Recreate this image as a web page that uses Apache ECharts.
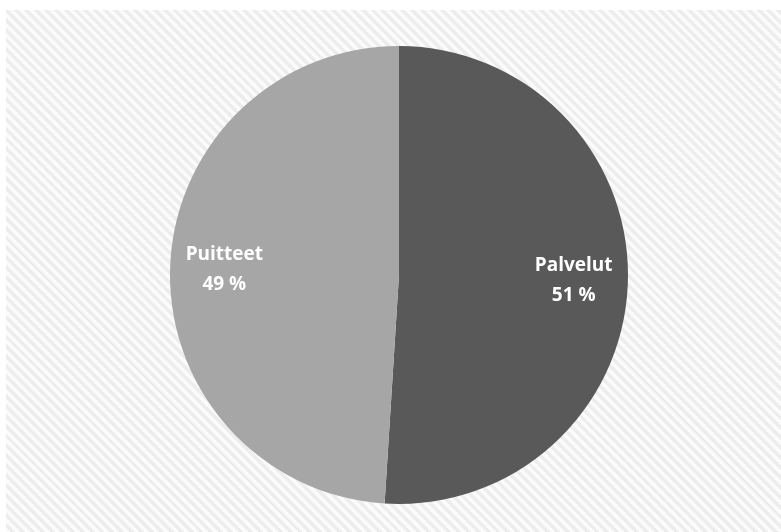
<!DOCTYPE html>
<html>
<head>
<meta charset="utf-8">
<script src="https://cdn.jsdelivr.net/npm/echarts@6/dist/echarts.min.js"></script>
<style>
  html, body { margin: 0; padding: 0; background: #ffffff; }
  #wrap { position: relative; width: 781px; height: 532px; overflow: hidden; }
  #stripes {
    position: absolute; left: 6px; top: 10px; right: 0; bottom: 0;
    background: repeating-linear-gradient(45deg, #fbfbfb 0px, #fbfbfb 3.5px, #ededed 3.5px, #ededed 7px);
  }
  #chart { position: absolute; left: 0; top: 0; width: 781px; height: 532px; }
</style>
</head>
<body>
<div id="wrap">
  <div id="stripes"></div>
  <div id="chart"></div>
</div>
<script>
// Share of spending: services vs. facilities
const categories = ['Palvelut', 'Puitteet'];
const shares = [51, 49];
const sliceColors = ['#595959', '#a6a6a6'];

const pieData = categories.map((name, i) => ({
  name: name,
  value: shares[i],
  itemStyle: { color: sliceColors[i] }
}));

const center = [399, 275];
const radius = 229;

const chart = echarts.init(document.getElementById('chart'), null, { renderer: 'canvas' });
chart.setOption({
  backgroundColor: 'transparent',
  animation: false,
  series: [
    {
      type: 'pie',
      center: center,
      radius: [0, radius],
      startAngle: 90,
      clockwise: true,
      silent: true,
      label: { show: false },
      labelLine: { show: false },
      itemStyle: { borderWidth: 0 },
      data: pieData
    },
    {
      // label carrier: same slices, drawn invisible, so labels sit at 3/4 of the radius
      type: 'pie',
      center: center,
      radius: [0, radius * 1.5],
      startAngle: 90,
      clockwise: true,
      silent: true,
      itemStyle: { color: 'rgba(0,0,0,0)', borderWidth: 0 },
      label: {
        show: true,
        position: 'inside',
        color: '#ffffff',
        fontFamily: 'Open Sans',
        fontWeight: 'bold',
        fontSize: 19,
        lineHeight: 30,
        formatter: p => p.name + '\n' + p.value + ' %'
      },
      labelLine: { show: false },
      data: categories.map((name, i) => ({ name: name, value: shares[i] }))
    }
  ]
});
</script>
</body>
</html>
